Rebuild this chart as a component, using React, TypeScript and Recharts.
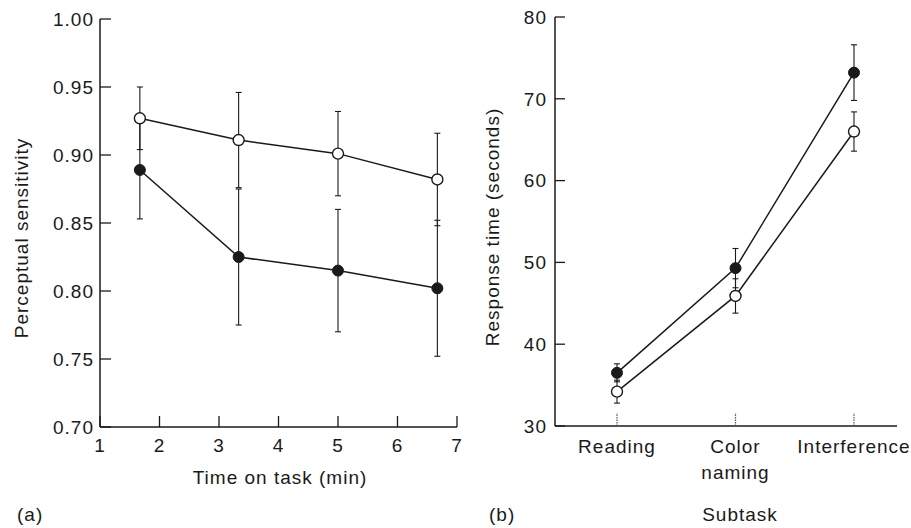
import { LineChart, Line, XAxis, YAxis, ErrorBar, Label } from 'recharts';

// (a) perceptual sensitivity over time on task
const times = [1.67, 3.33, 5.0, 6.67];
const sensFilled = [0.889, 0.825, 0.815, 0.802];
const sensFilledErr = [0.036, 0.05, 0.045, 0.05];
const sensOpen = [0.927, 0.911, 0.901, 0.882];
const sensOpenErr = [0.023, 0.035, 0.031, 0.034];
const sensTicks = [0.7, 0.75, 0.8, 0.85, 0.9, 0.95, 1.0];
const timeTicks = [1, 2, 3, 4, 5, 6, 7];

// (b) response time per subtask
const subtasks = ['Reading', 'Color naming', 'Interference'];
const rtFilled = [36.5, 49.3, 73.2];
const rtFilledErr = [1.1, 2.4, 3.4];
const rtOpen = [34.2, 45.9, 66.0];
const rtOpenErr = [1.4, 2.1, 2.4];
const rtTicks = [30, 40, 50, 60, 70, 80];

const INK = '#1a1a1a';
const FONT = "'Liberation Sans', Arial, Helvetica, sans-serif";
const txt = { fontSize: 19, fill: INK, letterSpacing: 1, fontFamily: FONT };

const panelA = times.map((t, i) => ({
  t,
  filled: sensFilled[i],
  filledErr: sensFilledErr[i],
  open: sensOpen[i],
  openErr: sensOpenErr[i],
}));

const panelB = subtasks.map((task, i) => ({
  task,
  filled: rtFilled[i],
  filledErr: rtFilledErr[i],
  open: rtOpen[i],
  openErr: rtOpenErr[i],
}));

const filledDot = { r: 5.5, fill: INK, stroke: INK, strokeWidth: 1 };
const openDot = { r: 5.5, fill: '#fff', stroke: INK, strokeWidth: 1.4 };
const axisLine = { stroke: INK, strokeWidth: 1.5 };

// inward tick marks are drawn by the tick renderers themselves
const Y_GAP_A = 6;
const Y_GAP_B = 8;
const X_GAP = 12;

function YTick(props: any) {
  const { payload, gap, len, digits } = props;
  const x = Number(props.x);
  const y = Number(props.y);
  const ax = x + Number(gap);
  const v = Number(payload.value);
  return (
    <g>
      <path d={`M${ax},${y}H${ax + Number(len)}`} stroke={INK} strokeWidth={1.3} fill="none" />
      <text x={x} y={y} dy="0.355em" textAnchor="end" {...txt}>
        {digits ? v.toFixed(digits) : v}
      </text>
    </g>
  );
}

function TimeTick(props: any) {
  const x = Number(props.x);
  const y = Number(props.y);
  const ay = y - X_GAP;
  return (
    <g>
      <path d={`M${x},${ay}V${ay - 11}`} stroke={INK} strokeWidth={1.3} fill="none" />
      <text x={x} y={y} dy="0.71em" textAnchor="middle" {...txt}>
        {props.payload.value}
      </text>
    </g>
  );
}

function SubtaskTick(props: any) {
  const x = Number(props.x);
  const y = Number(props.y);
  const ay = y - X_GAP;
  const lines = String(props.payload.value).split(' ');
  return (
    <g>
      <path
        d={`M${x},${ay}V${ay - 13}`}
        stroke="#555"
        strokeWidth={1.2}
        strokeDasharray="1.5 1"
        fill="none"
      />
      <text x={x} y={y + 2} textAnchor="middle" {...txt}>
        {lines.map((l, i) => (
          <tspan key={i} x={x} dy={i === 0 ? '0.71em' : 26}>
            {l}
          </tspan>
        ))}
      </text>
    </g>
  );
}

function VTitle({ cx, cy, text }: { cx: number; cy: number; text: string }) {
  return (
    <text x={cx} y={cy} transform={`rotate(-90 ${cx} ${cy})`} textAnchor="middle" {...txt}>
      {text}
    </text>
  );
}

export default function App() {
  return (
    <div
      style={{
        position: 'absolute',
        left: 0,
        top: 0,
        width: 911,
        height: 528,
        background: '#fff',
        fontFamily: FONT,
      }}
    >
      {/* Panel (a) */}
      <div style={{ position: 'absolute', left: 0, top: 0 }}>
        <LineChart
          width={465}
          height={528}
          data={panelA}
          margin={{ top: 19, right: 8, bottom: 0, left: 0 }}
        >
          <XAxis
            dataKey="t"
            type="number"
            domain={[1, 7]}
            ticks={timeTicks}
            interval={0}
            height={101}
            tickSize={0}
            tickMargin={X_GAP}
            axisLine={axisLine}
            tickLine={false}
            tick={<TimeTick />}
          >
            <Label
              content={() => (
                <g>
                  <text x={280} y={484} textAnchor="middle" {...txt}>
                    Time on task (min)
                  </text>
                  <text x={17} y={521} {...txt}>
                    (a)
                  </text>
                </g>
              )}
            />
          </XAxis>
          <XAxis
            xAxisId="top"
            orientation="top"
            type="number"
            domain={[0, 1]}
            height={0}
            tick={false}
            tickLine={false}
            axisLine={axisLine}
          />
          <YAxis
            type="number"
            domain={[0.7, 1]}
            ticks={sensTicks}
            interval={0}
            width={100}
            tickSize={0}
            tickMargin={Y_GAP_A}
            axisLine={axisLine}
            tickLine={false}
            tick={<YTick gap={Y_GAP_A} len={11} digits={2} />}
          >
            <Label
              content={() => (
                <VTitle cx={28} cy={238} text="Perceptual sensitivity" />
              )}
            />
          </YAxis>
          <YAxis
            yAxisId="right"
            orientation="right"
            type="number"
            domain={[0, 1]}
            width={0}
            tick={false}
            tickLine={false}
            axisLine={axisLine}
          />
          <Line
            dataKey="filled"
            stroke={INK}
            strokeWidth={1.5}
            dot={filledDot}
            activeDot={false}
            isAnimationActive={false}
          >
            <ErrorBar dataKey="filledErr" direction="y" width={3} stroke={INK} strokeWidth={1.1} />
          </Line>
          <Line
            dataKey="open"
            stroke={INK}
            strokeWidth={1.5}
            dot={openDot}
            activeDot={false}
            isAnimationActive={false}
          >
            <ErrorBar dataKey="openErr" direction="y" width={3} stroke={INK} strokeWidth={1.1} />
          </Line>
        </LineChart>
      </div>

      {/* Panel (b) */}
      <div style={{ position: 'absolute', left: 465, top: 0 }}>
        <LineChart
          width={446}
          height={528}
          data={panelB}
          margin={{ top: 17, right: 14, bottom: 0, left: 0 }}
        >
          <XAxis
            dataKey="task"
            type="category"
            padding={{ left: 62, right: 43 }}
            interval={0}
            height={102}
            tickSize={0}
            tickMargin={X_GAP}
            axisLine={axisLine}
            tickLine={false}
            tick={<SubtaskTick />}
          >
            <Label
              content={() => (
                <g>
                  <text x={275} y={521} textAnchor="middle" {...txt}>
                    Subtask
                  </text>
                  <text x={24} y={521} {...txt}>
                    (b)
                  </text>
                </g>
              )}
            />
          </XAxis>
          <XAxis
            xAxisId="top"
            orientation="top"
            type="number"
            domain={[0, 1]}
            height={0}
            tick={false}
            tickLine={false}
            axisLine={axisLine}
          />
          <YAxis
            type="number"
            domain={[30, 80]}
            ticks={rtTicks}
            interval={0}
            width={90}
            tickSize={0}
            tickMargin={Y_GAP_B}
            axisLine={axisLine}
            tickLine={false}
            tick={<YTick gap={Y_GAP_B} len={10} />}
          >
            <Label
              content={() => (
                <VTitle cx={34} cy={227} text="Response time (seconds)" />
              )}
            />
          </YAxis>
          <YAxis
            yAxisId="right"
            orientation="right"
            type="number"
            domain={[0, 1]}
            width={0}
            tick={false}
            tickLine={false}
            axisLine={axisLine}
          />
          <Line
            dataKey="filled"
            stroke={INK}
            strokeWidth={1.5}
            dot={filledDot}
            activeDot={false}
            isAnimationActive={false}
          >
            <ErrorBar dataKey="filledErr" direction="y" width={3} stroke={INK} strokeWidth={1.1} />
          </Line>
          <Line
            dataKey="open"
            stroke={INK}
            strokeWidth={1.5}
            dot={openDot}
            activeDot={false}
            isAnimationActive={false}
          >
            <ErrorBar dataKey="openErr" direction="y" width={3} stroke={INK} strokeWidth={1.1} />
          </Line>
        </LineChart>
      </div>
    </div>
  );
}
